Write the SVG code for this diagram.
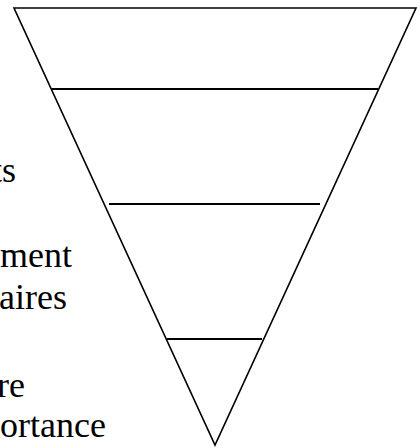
<svg xmlns="http://www.w3.org/2000/svg" width="420" height="448" viewBox="0 0 420 448">
<style>
.s{fill:none;stroke:#000;stroke-width:1.6}
.h{stroke:#000;stroke-width:1.8}
.t{font-family:"Liberation Serif","Times New Roman",serif;font-size:36px;fill:#000;text-anchor:end}
</style>
<rect width="420" height="448" fill="#fff"/>
<g id="pyramid">
<polygon class="s" points="14,8 416,8 215,445"/>
</g>
<g id="connectors">
<line class="h" x1="52" y1="89" x2="378" y2="89"/>
<line class="h" x1="109" y1="204" x2="320" y2="204"/>
<line class="h" x1="167" y1="339" x2="262" y2="339"/>
</g>
<g id="labels">
<text class="t" x="16" y="182">ts</text>
<text class="t" x="72" y="267">ment</text>
<text class="t" x="67" y="309">aires</text>
<text class="t" x="25" y="397">re</text>
<text class="t" x="106" y="437">ortance</text>
</g>
</svg>
